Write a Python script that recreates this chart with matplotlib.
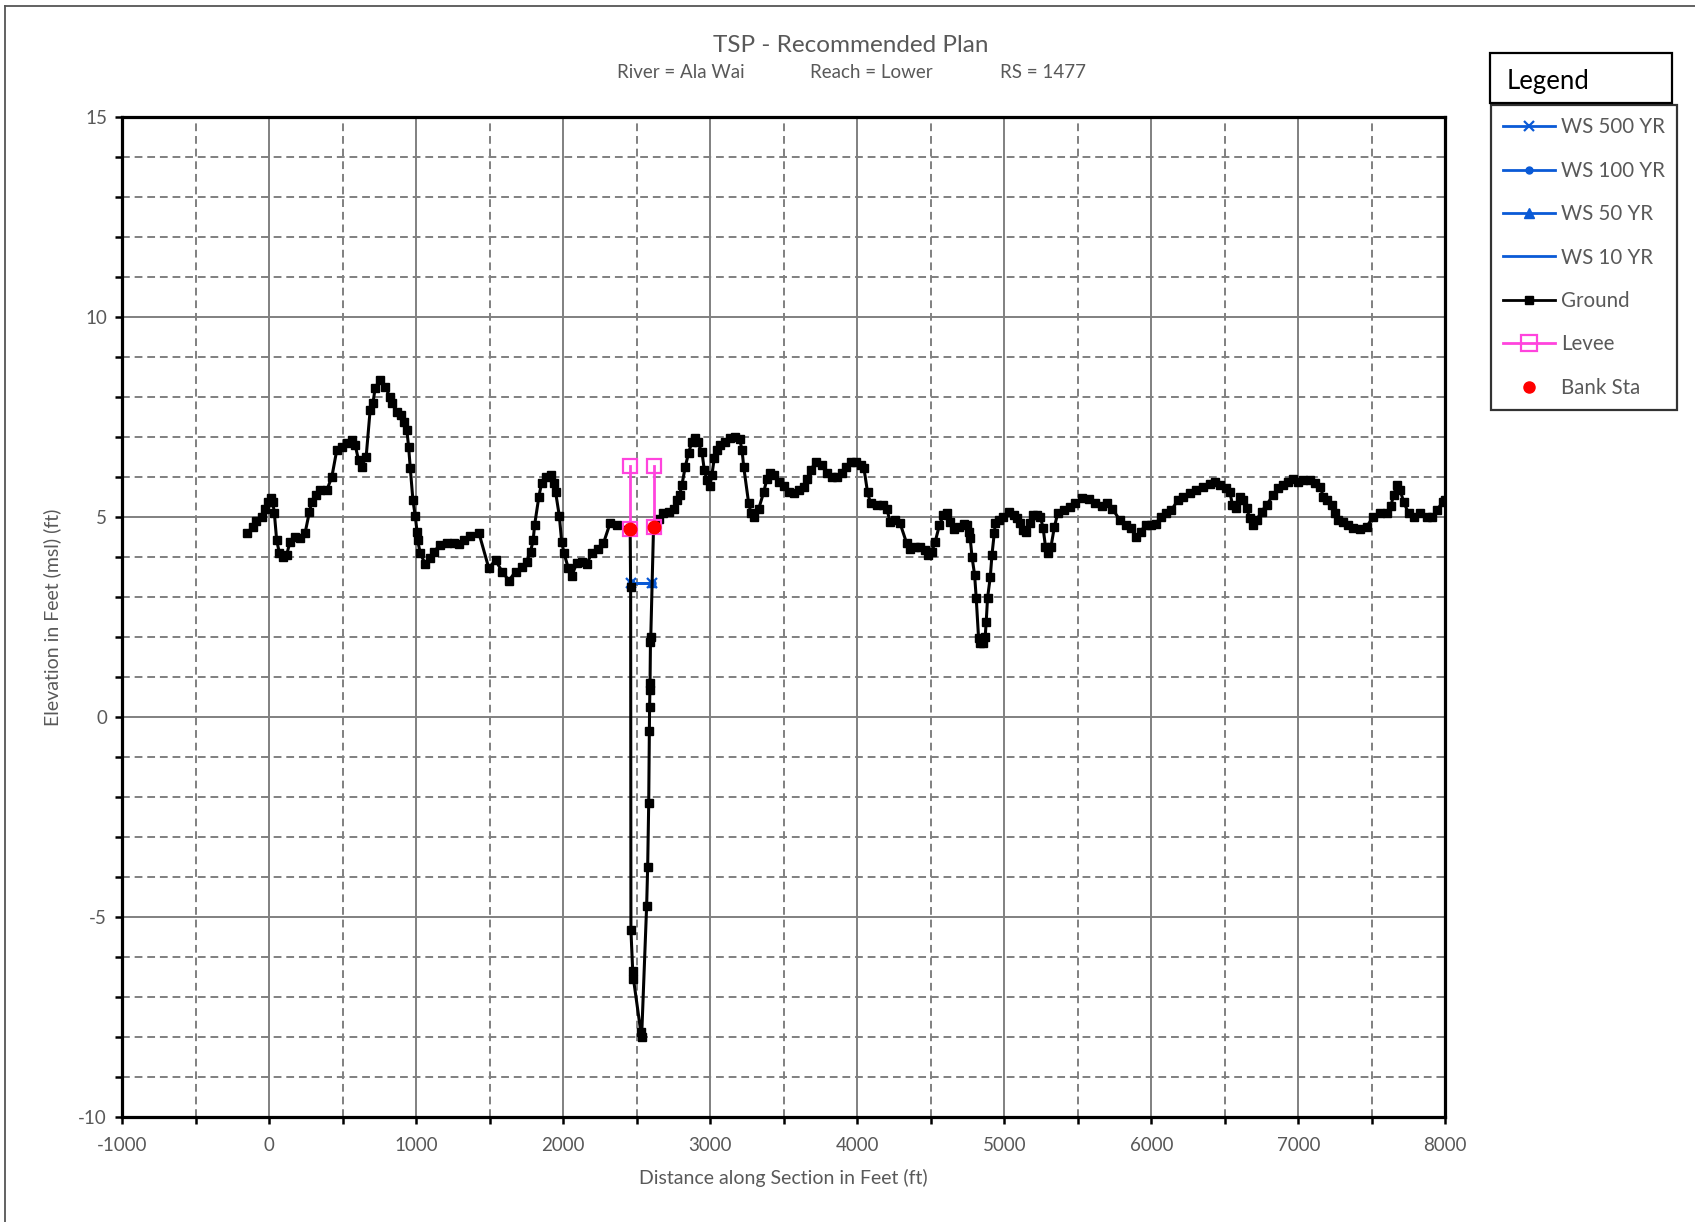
import matplotlib
matplotlib.use('Agg')
import matplotlib.pyplot as plt
from matplotlib.lines import Line2D
from matplotlib.patches import Rectangle
from matplotlib.ticker import MultipleLocator

plt.rcParams['font.family'] = ['Lato', 'DejaVu Sans']
plt.rcParams['axes.unicode_minus'] = False

# Ground profile (station ft, elevation ft)
ground_sta = [
    -155, -114, -91, -52, -30, -7, 9, 23, 34, 50, 68, 95, 118, 141, 175, 209, 243,
    273, 289, 318, 345, 391, 425, 459, 493, 527, 561, 584, 607, 630, 659, 686, 705,
    720, 750, 789, 818, 834, 868, 895, 914, 936, 948, 959, 977, 993, 1005, 1009,
    1027, 1061, 1091, 1118, 1164, 1209, 1255, 1289, 1323, 1368, 1425, 1493, 1539,
    1584, 1630, 1675, 1720, 1750, 1777, 1795, 1805, 1834, 1852, 1880, 1914, 1936,
    1948, 1973, 1989, 2005, 2034, 2057, 2091, 2125, 2159, 2193, 2239, 2273, 2318,
    2364, 2455, 2458, 2460, 2472, 2477, 2527, 2533, 2567, 2574, 2581, 2585, 2587,
    2589, 2590, 2593, 2595, 2614, 2648, 2677, 2716, 2750, 2773, 2791, 2807, 2830,
    2852, 2875, 2898, 2914, 2943, 2959, 2977, 2995, 3011, 3027, 3045, 3068, 3102,
    3136, 3170, 3200, 3216, 3227, 3261, 3277, 3295, 3330, 3364, 3386, 3409, 3432,
    3466, 3500, 3534, 3568, 3602, 3636, 3659, 3682, 3716, 3761, 3795, 3830, 3864,
    3898, 3920, 3955, 3989, 4023, 4045, 4070, 4090, 4132, 4177, 4200, 4223, 4257,
    4291, 4336, 4359, 4393, 4427, 4461, 4484, 4507, 4530, 4559, 4586, 4609, 4632,
    4659, 4689, 4723, 4745, 4757, 4768, 4780, 4798, 4809, 4825, 4836, 4855, 4870,
    4877, 4886, 4905, 4916, 4932, 4939, 4961, 4991, 5030, 5064, 5086, 5109, 5127,
    5150, 5173, 5195, 5223, 5245, 5264, 5280, 5298, 5318, 5341, 5364, 5405, 5445,
    5484, 5530, 5575, 5620, 5666, 5700, 5734, 5786, 5825, 5859, 5893, 5927, 5961,
    5995, 6030, 6064, 6098, 6136, 6182, 6216, 6261, 6307, 6352, 6398, 6432, 6466,
    6511, 6534, 6552, 6575, 6602, 6625, 6648, 6670, 6693, 6716, 6750, 6784, 6830,
    6864, 6898, 6932, 6966, 7000, 7034, 7080, 7114, 7148, 7170, 7193, 7227, 7250,
    7273, 7307, 7341, 7375, 7420, 7466, 7511, 7557, 7602, 7630, 7648, 7670, 7693,
    7716, 7750, 7784, 7830, 7875, 7909, 7943, 7984, 8000,
]
ground_elev = [
    4.60, 4.75, 4.92, 5.02, 5.20, 5.39, 5.48, 5.39, 5.12, 4.43, 4.12, 4.00, 4.06,
    4.39, 4.52, 4.48, 4.60, 5.14, 5.39, 5.56, 5.67, 5.68, 6.00, 6.68, 6.75, 6.85,
    6.93, 6.81, 6.43, 6.27, 6.52, 7.68, 7.85, 8.23, 8.42, 8.27, 8.02, 7.85, 7.62,
    7.56, 7.39, 7.17, 6.75, 6.23, 5.43, 5.03, 4.64, 4.43, 4.10, 3.83, 3.98, 4.14,
    4.31, 4.37, 4.35, 4.33, 4.43, 4.53, 4.62, 3.73, 3.93, 3.64, 3.42, 3.64, 3.77,
    3.89, 4.14, 4.43, 4.81, 5.52, 5.85, 6.02, 6.06, 5.85, 5.62, 5.03, 4.39, 4.10,
    3.73, 3.53, 3.85, 3.89, 3.83, 4.10, 4.22, 4.35, 4.85, 4.81, 4.70, 3.25, -5.32,
    -6.33, -6.53, -7.86, -7.98, -4.71, -3.73, -2.15, -0.33, 0.27, 0.68, 0.85, 1.89,
    2.00, 4.77, 4.95, 5.10, 5.14, 5.22, 5.43, 5.56, 5.81, 6.27, 6.60, 6.89, 6.98,
    6.87, 6.64, 6.18, 5.93, 5.78, 6.06, 6.48, 6.68, 6.81, 6.89, 6.98, 7.02, 6.95,
    6.68, 6.27, 5.35, 5.10, 5.02, 5.22, 5.64, 5.97, 6.10, 6.06, 5.89, 5.78, 5.64,
    5.60, 5.68, 5.77, 5.97, 6.18, 6.37, 6.31, 6.10, 6.00, 6.02, 6.10, 6.27, 6.39,
    6.39, 6.31, 6.23, 5.62, 5.35, 5.31, 5.31, 5.22, 4.89, 4.93, 4.85, 4.35, 4.22,
    4.27, 4.27, 4.18, 4.06, 4.14, 4.39, 4.81, 5.06, 5.10, 4.89, 4.72, 4.77, 4.83,
    4.81, 4.64, 4.48, 4.02, 3.56, 2.98, 1.98, 1.85, 1.85, 2.02, 2.39, 2.98, 3.52,
    4.06, 4.60, 4.85, 4.93, 5.02, 5.14, 5.06, 4.98, 4.85, 4.68, 4.64, 4.85, 5.06,
    5.06, 5.02, 4.73, 4.27, 4.10, 4.27, 4.77, 5.10, 5.18, 5.25, 5.35, 5.48, 5.45,
    5.35, 5.28, 5.35, 5.22, 4.93, 4.81, 4.73, 4.52, 4.64, 4.81, 4.81, 4.83, 5.02,
    5.10, 5.18, 5.43, 5.52, 5.60, 5.68, 5.77, 5.83, 5.87, 5.81, 5.73, 5.64, 5.31,
    5.23, 5.52, 5.43, 5.23, 4.98, 4.81, 4.93, 5.14, 5.31, 5.56, 5.73, 5.81, 5.89,
    5.95, 5.89, 5.93, 5.93, 5.85, 5.77, 5.52, 5.43, 5.31, 5.10, 4.93, 4.89, 4.81,
    4.73, 4.70, 4.77, 5.02, 5.10, 5.12, 5.28, 5.56, 5.81, 5.68, 5.39, 5.10, 5.02,
    5.10, 5.00, 5.02, 5.18, 5.39, 5.43,
]

# Water surface (all profiles at the same level)
ws_sta = [2458, 2604]
ws_500 = [3.37, 3.37]
ws_100 = [3.37, 3.37]
ws_50 = [3.37, 3.37]
ws_10 = [3.37, 3.37]

# Levees
levee_left_sta = [2454, 2454]
levee_left_elev = [4.70, 6.29]
levee_right_sta = [2617, 2617]
levee_right_elev = [4.77, 6.29]

# Bank stations
bank_sta = [2455, 2614]
bank_elev = [4.70, 4.77]

TXT = '#595959'
BLUE = '#0a5ad6'
PINK = '#ff44dd'

W, H = 1695, 1222
fig = plt.figure(figsize=(W / 100, H / 100), dpi=100)
ax = fig.add_axes([122.3 / W, 1 - 1117.3 / H, 1323 / W, 1000 / H])

# outer frame (left and top edges visible)
fig.add_artist(Line2D([5 / W, 5 / W], [0, 1 - 6 / H], transform=fig.transFigure,
                      color='#555555', lw=1.3))
fig.add_artist(Line2D([5 / W, 1], [1 - 6 / H, 1 - 6 / H], transform=fig.transFigure,
                      color='#555555', lw=1.3))

ax.plot(ws_sta, ws_10, color=BLUE, lw=2, zorder=3)
ax.plot(ws_sta, ws_50, color=BLUE, lw=2, marker='^', ms=6, zorder=3)
ax.plot(ws_sta, ws_100, color=BLUE, lw=2, marker='o', ms=5, zorder=3)
ax.plot(ws_sta, ws_500, color=BLUE, lw=2, marker='x', ms=7, mew=1.6, zorder=3)

ax.plot(ground_sta, ground_elev, color='black', lw=2.2, marker='s', ms=5.5,
        mec='black', zorder=4)

for sx, sy in [(levee_left_sta, levee_left_elev), (levee_right_sta, levee_right_elev)]:
    ax.plot(sx, sy, color=PINK, lw=2, marker='s', ms=9.5, mfc='none', mec=PINK,
            mew=1.6, zorder=5)

ax.plot(bank_sta, bank_elev, ls='none', marker='o', ms=9, color='red', zorder=6)

ax.set_xlim(-1000, 8000)
ax.set_ylim(-10, 15)
ax.xaxis.set_major_locator(MultipleLocator(1000))
ax.xaxis.set_minor_locator(MultipleLocator(500))
ax.yaxis.set_major_locator(MultipleLocator(5))
ax.yaxis.set_minor_locator(MultipleLocator(1))
ax.grid(which='major', color='#808080', lw=1.4, ls='-')
ax.grid(which='minor', color='#808080', lw=1.4, ls=(0, (4, 2.5)))
ax.set_axisbelow(True)
for s in ax.spines.values():
    s.set_linewidth(2.3)
    s.set_color('black')
ax.tick_params(which='both', direction='out', length=5, width=1.8, color='black',
               labelcolor=TXT, labelsize=13.5)
ax.tick_params(axis='x', pad=9)
ax.tick_params(axis='y', pad=6)

ax.set_xlabel('Distance along Section in Feet (ft)', color=TXT, fontsize=14, labelpad=11)
ax.set_ylabel('Elevation in Feet (msl) (ft)', color=TXT, fontsize=14, labelpad=12)

fig.text(851 / W, 1 - 45 / H, 'TSP - Recommended Plan', ha='center', va='center',
         color=TXT, fontsize=17.5)
for xc, t in [(681, 'River = Ala Wai'), (871, 'Reach = Lower'), (1043, 'RS = 1477')]:
    fig.text(xc / W, 1 - 73 / H, t, ha='center', va='center', color=TXT, fontsize=13.5)

# legend title box
fig.add_artist(Rectangle((1490 / W, 1 - 103 / H), 182 / W, 50 / H,
                         transform=fig.transFigure, fill=False, ec='black', lw=1.6))
fig.text(1507 / W, 1 - 82 / H, 'Legend', ha='left', va='center', color='black', fontsize=18.5)

handles = [
    Line2D([], [], color=BLUE, lw=2, marker='x', ms=7, mew=1.6),
    Line2D([], [], color=BLUE, lw=2, marker='o', ms=5),
    Line2D([], [], color=BLUE, lw=2, marker='^', ms=7),
    Line2D([], [], color=BLUE, lw=2),
    Line2D([], [], color='black', lw=2, marker='s', ms=6),
    Line2D([], [], color=PINK, lw=2, marker='s', ms=11, mfc='none', mec=PINK, mew=1.6),
    Line2D([], [], ls='none', color='red', marker='o', ms=8),
]
labels = ['WS 500 YR', 'WS 100 YR', 'WS 50 YR', 'WS 10 YR', 'Ground', 'Levee', 'Bank Sta']
leg = fig.legend(handles, labels, loc='upper left',
                 bbox_to_anchor=(1491 / W, 1 - 105 / H), borderaxespad=0,
                 fontsize=14.8, labelcolor=TXT, frameon=True, fancybox=False,
                 edgecolor='black', handlelength=2.5, handletextpad=0.3,
                 labelspacing=1.14, borderpad=0.6)
leg.get_frame().set_linewidth(1.6)

fig.savefig('out.png', dpi=100)
